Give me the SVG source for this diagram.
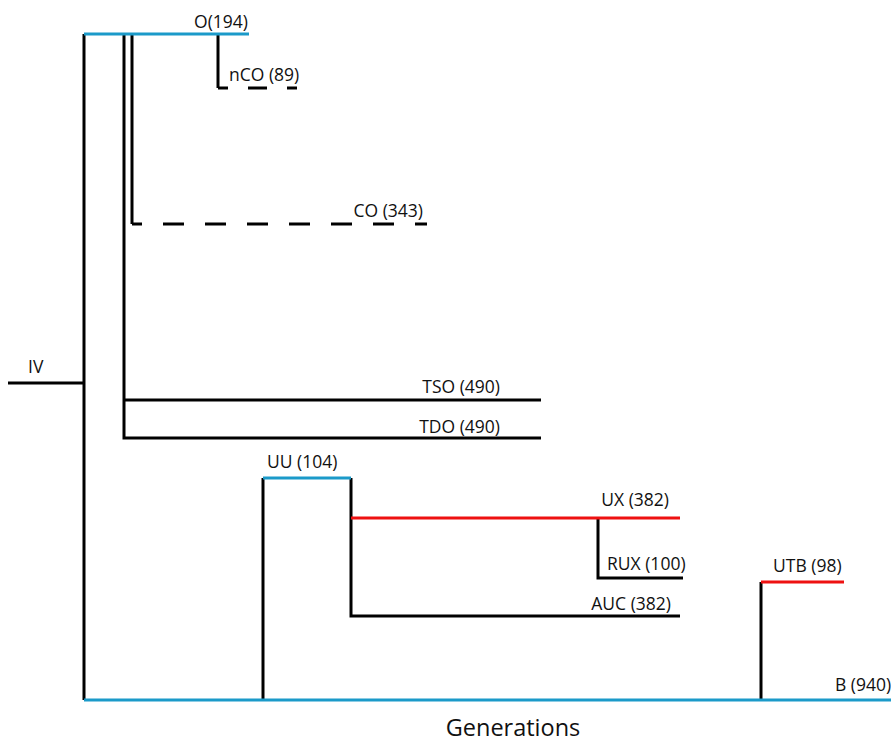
<svg xmlns="http://www.w3.org/2000/svg" width="891" height="742" viewBox="0 0 891 742">
<style>
text{font-family:"Open Sans","Noto Sans",sans-serif;font-size:17.5px;fill:#111}
.k{stroke:#000;stroke-width:3;fill:none}
.b{stroke:#1b9ac9;stroke-width:3;fill:none}
.r{stroke:#ee1111;stroke-width:3;fill:none}
.d{stroke:#000;stroke-width:3;fill:none}
</style>
<rect width="891" height="742" fill="#fff"/>
<g id="connectors">
<path class="k" d="M84,34V700"/>
<path class="k" d="M8,383H84"/>
<path class="k" d="M124,34V438H541"/>
<path class="k" d="M124,400H541"/>
<path class="k" d="M132,34V224"/>
<path class="d" d="M132,224H427" stroke-dasharray="21 21" stroke-dashoffset="11"/>
<path class="k" d="M218,34V88"/>
<path class="d" d="M218,88H297" stroke-dasharray="19 20" stroke-dashoffset="9"/>
<path class="k" d="M263,478V700"/>
<path class="k" d="M351,478V616H680"/>
<path class="k" d="M598,518V578H683"/>
<path class="k" d="M761,582V700"/>
</g>
<g id="node-O"><path class="b" d="M84,34H249"/><text x="248" y="28" text-anchor="end">O(194)</text></g>
<g id="node-nCO"><text x="229" y="81">nCO (89)</text></g>
<g id="node-CO"><text x="423" y="217" text-anchor="end">CO (343)</text></g>
<g id="node-IV"><text x="28" y="373">IV</text></g>
<g id="node-TSO"><text x="500" y="393" text-anchor="end">TSO (490)</text></g>
<g id="node-TDO"><text x="500" y="433" text-anchor="end">TDO (490)</text></g>
<g id="node-UU"><path class="b" d="M263,478H351"/><text x="267" y="468">UU (104)</text></g>
<g id="node-UX"><path class="r" d="M351,518H680"/><text x="669" y="506" text-anchor="end">UX (382)</text></g>
<g id="node-RUX"><text x="607" y="570">RUX (100)</text></g>
<g id="node-AUC"><text x="671" y="610" text-anchor="end">AUC (382)</text></g>
<g id="node-UTB"><path class="r" d="M761,582H844"/><text x="773" y="572">UTB (98)</text></g>
<g id="node-B"><path class="b" d="M84,700H891"/><text x="835" y="691">B (940)</text></g>
<text x="513" y="736" text-anchor="middle" style="font-size:23.5px">Generations</text>
</svg>
